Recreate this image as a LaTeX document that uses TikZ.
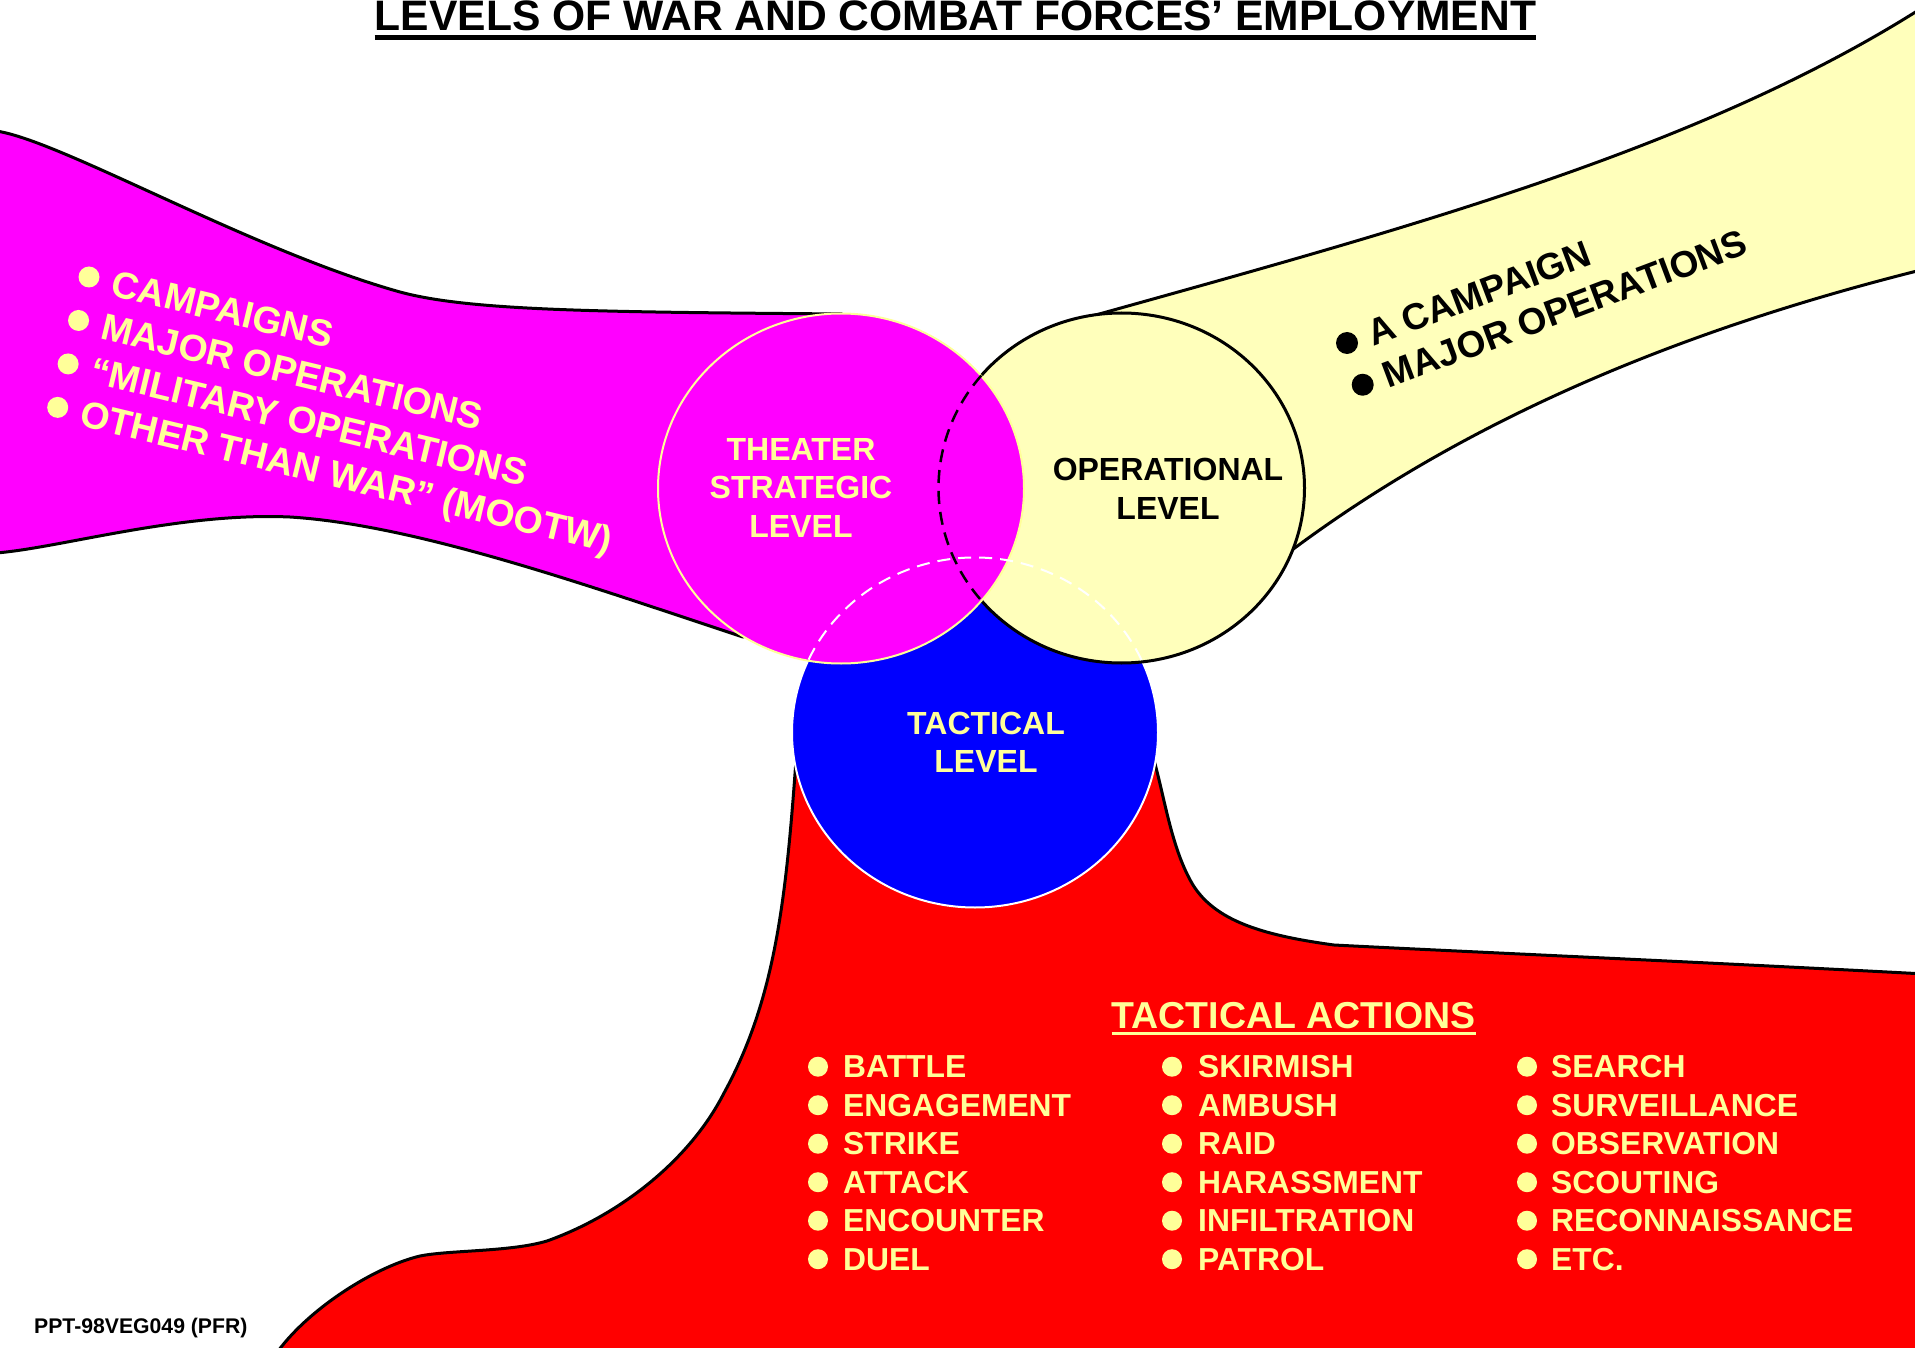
\documentclass[tikz,border=0pt]{standalone}
\usepackage{fontspec}
\setmainfont{Liberation Sans}
\usetikzlibrary{shapes.geometric}
\definecolor{mag}{RGB}{255,0,255}
\definecolor{paleyel}{RGB}{255,255,187}
\definecolor{txtyel}{RGB}{255,255,153}
\definecolor{pureblue}{RGB}{0,0,255}
\definecolor{purered}{RGB}{255,0,0}
\tikzset{
  ribbon/.style={draw=black, line width=3pt, line join=round},
  lvl/.style={ellipse, inner sep=0pt, outer sep=0pt, minimum width=366pt, minimum height=350pt},
  lvltext/.style={align=center, inner sep=0pt, font=\fontsize{32}{38.3}\selectfont\bfseries},
  item/.style={anchor=base west, inner sep=0pt, text=txtyel, font=\fontsize{31.8}{36}\selectfont\bfseries},
  dot/.style={circle, fill=txtyel, inner sep=0pt, minimum size=20pt},
  rtext/.style={anchor=base west, inner sep=0pt, transform shape, font=\fontsize{37.5}{44}\selectfont\bfseries},
  dashy/.style={line width=2.5pt, dash pattern=on 13pt off 8pt}
}
\begin{document}
\begin{tikzpicture}[x=1pt,y=-1pt]
\fill[white] (0,0) rectangle (1915,1348);
\useasboundingbox (0,0) rectangle (1915,1348);

% yellow ribbon (operational)
\path[ribbon, fill=paleyel] (1085,318) .. controls (1400,230) and (1700,150) .. (1925,6)
  -- (1925,269) .. controls (1700,325) and (1480,410) .. (1292,550)
  -- (1150,470) -- cycle;

% magenta ribbon (theater strategic)
\path[ribbon, fill=mag] (-4,131) .. controls (60,140) and (250,250) .. (400,292)
  .. controls (470,311) and (600,312) .. (842,314)
  -- (842,600) -- (743,637) .. controls (600,590) and (420,525) .. (290,517)
  .. controls (180,512) and (60,548) .. (-4,553) -- cycle;

% red area (tactical)
\path[ribbon, fill=purered] (796,760) .. controls (786,900) and (775,1000) .. (724,1093)
  .. controls (690,1160) and (620,1215) .. (547,1241)
  .. controls (510,1252) and (450,1250) .. (420,1256)
  .. controls (370,1268) and (300,1315) .. (272,1360)
  -- (1925,1360) -- (1925,974)
  .. controls (1700,962) and (1450,951) .. (1334,945)
  .. controls (1260,935) and (1215,920) .. (1193,885)
  .. controls (1172,850) and (1165,800) .. (1154,760) -- cycle;

% level ellipses
\node[lvl, fill=pureblue, draw=white, line width=2pt] (tac) at (975,732.5) {};
\node[lvl, fill=paleyel, draw=black, line width=3pt] (op) at (1121.5,488) {};
\node[lvl, fill=mag, draw=txtyel, line width=2pt] (strat) at (841,488.5) {};

\draw[black, dashy] (op.center) ++(140:183pt and 175pt) arc[start angle=140, end angle=220, x radius=183pt, y radius=175pt];
\draw[white, dashy, line width=2pt] (tac.center) ++(24.5:183pt and 175pt) arc[start angle=24.5, end angle=155.5, x radius=183pt, y radius=175pt];

% level labels
\node[lvltext, text=txtyel] (strattxt) at (801,487.8) {THEATER\\STRATEGIC\\LEVEL};
\node[lvltext, text=black] (optxt) at (1168,488.8) {OPERATIONAL\\LEVEL};
\node[lvltext, text=txtyel] (tactxt) at (986,742.2) {TACTICAL\\LEVEL};

% title
\node[anchor=base, inner sep=0pt, font=\fontsize{42.6}{50}\selectfont\bfseries] (title) at (955.5,31) {LEVELS OF WAR AND COMBAT FORCES’ EMPLOYMENT};
\draw[line width=4.5pt] ([yshift=-6.5pt]title.base west) -- ([yshift=-6.5pt]title.base east);

% magenta ribbon text
\begin{scope}[shift={(89,277)}, rotate=-13.5]
  \foreach \t [count=\i from 0] in {{CAMPAIGNS},{MAJOR OPERATIONS},{“MILITARY OPERATIONS},{OTHER THAN WAR” (MOOTW)}} {
    \node[dot, minimum size=21pt] (md\i) at (0,{44.7*\i}) {};
    \node[rtext, text=txtyel] (mt\i) at (24,{44.7*\i+12.9}) {\t};
  }
\end{scope}

% yellow ribbon text
\begin{scope}[shift={(1347,343)}, rotate=20.6]
  \foreach \t [count=\i from 0] in {{A CAMPAIGN},{MAJOR OPERATIONS}} {
    \node[dot, fill=black, minimum size=22pt] (yd\i) at (0,{44.6*\i}) {};
    \node[rtext, text=black, font=\fontsize{37}{44}\selectfont\bfseries] (yt\i) at (23,{44.6*\i+12.9}) {\t};
  }
\end{scope}

% tactical actions
\node[anchor=base west, inner sep=0pt, text=txtyel, font=\fontsize{37.5}{44}\selectfont\bfseries] (tahead) at (1111.5,1028.3) {TACTICAL ACTIONS};
\draw[txtyel, line width=3pt] ([yshift=-5.2pt]tahead.base west) -- ([yshift=-5.2pt]tahead.base east);

\foreach \t [count=\r from 0] in {BATTLE,ENGAGEMENT,STRIKE,ATTACK,ENCOUNTER,DUEL} {
  \node[dot] (ad\r) at (818,{1066.7+38.5*\r}) {};
  \node[item] (at\r) at (843,{1077.7+38.5*\r}) {\t};
}
\foreach \t [count=\r from 0] in {SKIRMISH,AMBUSH,RAID,HARASSMENT,INFILTRATION,PATROL} {
  \node[dot] (bd\r) at (1172,{1066.7+38.5*\r}) {};
  \node[item] (bt\r) at (1198,{1077.7+38.5*\r}) {\t};
}
\foreach \t [count=\r from 0] in {SEARCH,SURVEILLANCE,OBSERVATION,SCOUTING,RECONNAISSANCE,ETC.} {
  \node[dot] (cd\r) at (1527,{1066.7+38.5*\r}) {};
  \node[item] (ct\r) at (1551,{1077.7+38.5*\r}) {\t};
}

\node[anchor=base west, inner sep=0pt, font=\fontsize{21.2}{25}\selectfont\bfseries] (ppt) at (34,1333) {PPT-98VEG049 (PFR)};
\end{tikzpicture}
\end{document}
